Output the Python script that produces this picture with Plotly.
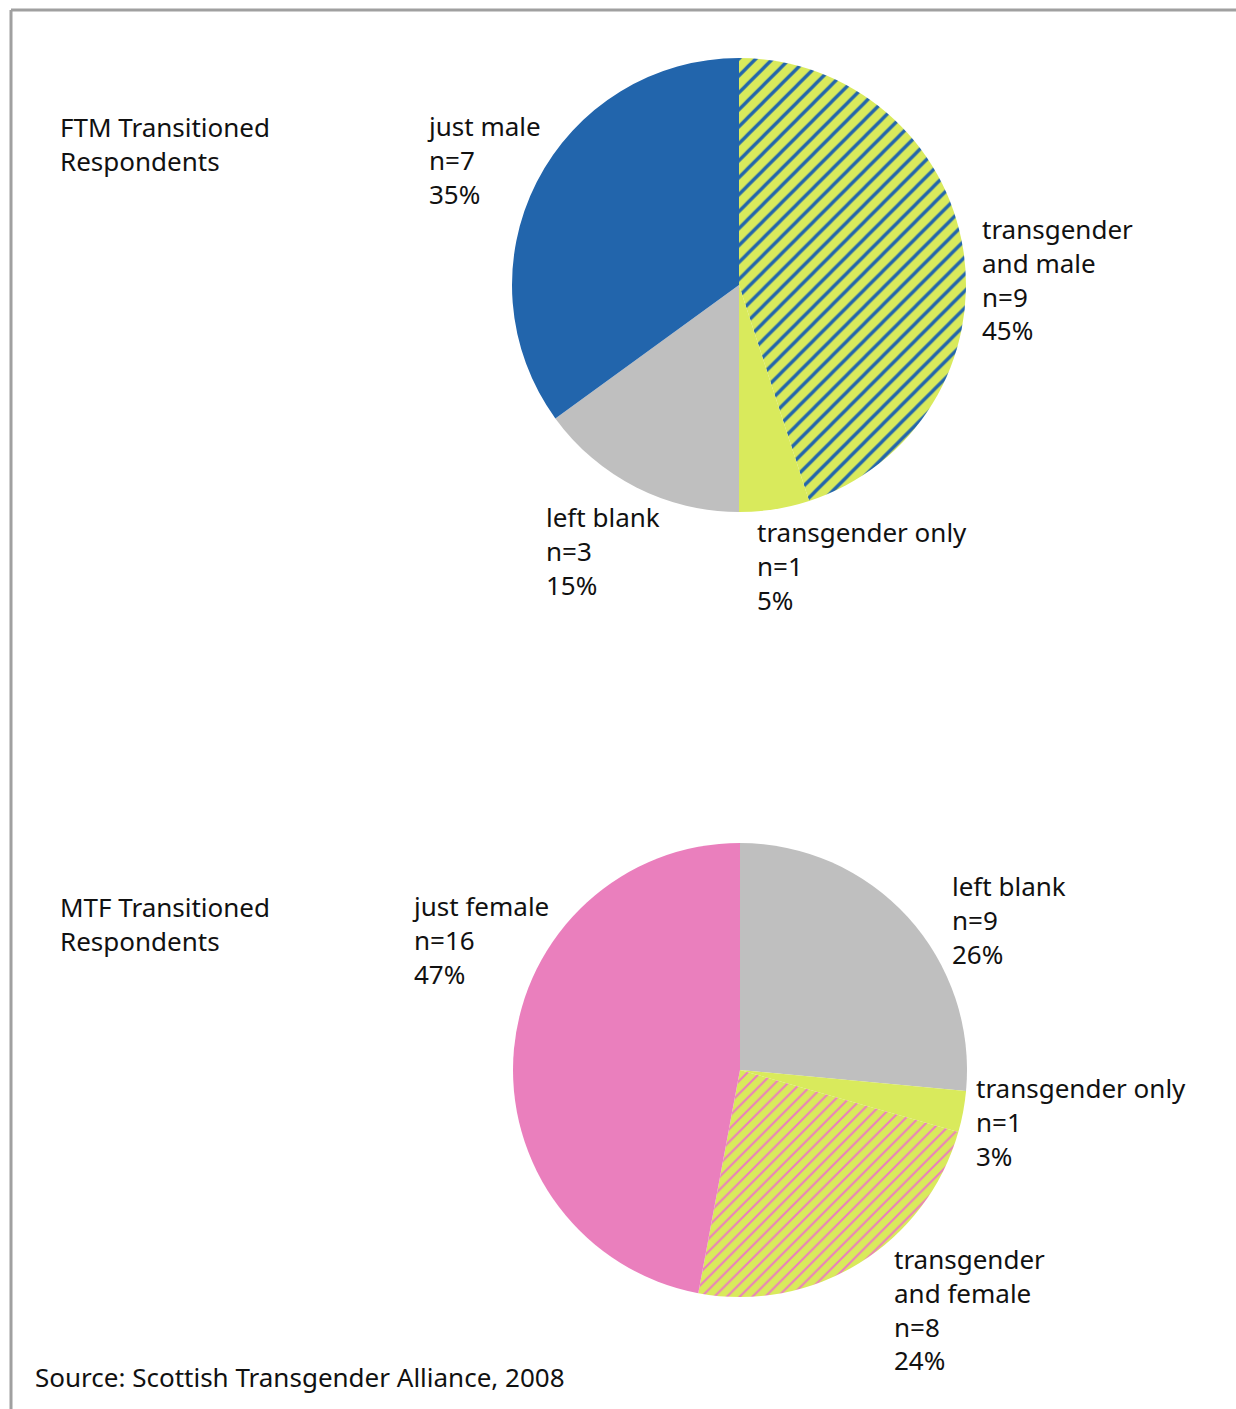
import plotly.graph_objects as go

W, H = 1236, 1409

# FTM data (clockwise from 12 o'clock)
ftm_labels = [["transgender", "and male"], ["transgender only"], ["left blank"], ["just male"]]
ftm_n = [9, 1, 3, 7]
ftm_pct = [45, 5, 15, 35]

# MTF data
mtf_labels = [["left blank"], ["transgender only"], ["transgender", "and female"], ["just female"]]
mtf_n = [9, 1, 8, 16]
mtf_pct = [26, 3, 24, 47]

titles = [["FTM Transitioned", "Respondents"], ["MTF Transitioned", "Respondents"]]
source = "Source: Scottish Transgender Alliance, 2008"

BLUE = "#2265AC"
LIME = "#D9EA5C"
GREY = "#BFBFBF"
PINK = "#EA7FBD"

FONT = "Noto Sans"
FS = 26
LH = 34            # rendered line height
REF_LINE = 32      # line spacing in the reference
BASE_OFF = 30      # annotation top -> first baseline

fig = go.Figure()

def px_domain(cx, cy, r):
    return dict(x=[(cx - r) / W, (cx + r) / W],
                y=[(H - cy - r) / H, (H - cy + r) / H])

fig.add_trace(go.Pie(
    labels=[" ".join(l) for l in ftm_labels], values=ftm_n,
    sort=False, direction="clockwise", rotation=0,
    textinfo="none", hoverinfo="label+value+percent",
    marker=dict(colors=[LIME, LIME, GREY, BLUE],
                line=dict(width=0),
                pattern=dict(shape=["/", "", "", ""], fgcolor=BLUE, bgcolor=LIME,
                             fgopacity=1, size=12, solidity=0.28, fillmode="overlay")),
    domain=px_domain(739, 285, 227), showlegend=False,
))

fig.add_trace(go.Pie(
    labels=[" ".join(l) for l in mtf_labels], values=mtf_n,
    sort=False, direction="clockwise", rotation=0,
    textinfo="none", hoverinfo="label+value+percent",
    marker=dict(colors=[GREY, LIME, LIME, PINK],
                line=dict(width=0),
                pattern=dict(shape=["", "", "/", ""], fgcolor=PINK, bgcolor=LIME,
                             fgopacity=1, size=9, solidity=0.23, fillmode="overlay")),
    domain=px_domain(740, 1070, 227), showlegend=False,
))

def add_block(x, baseline, lines):
    n = len(lines)
    shift = (n - 1) / 2 * (LH - REF_LINE)
    b0 = baseline - shift
    fig.add_annotation(x=(x - 3) / W, y=1 - (b0 - BASE_OFF) / H,
                       xref="paper", yref="paper",
                       xanchor="left", yanchor="top", align="left",
                       showarrow=False, text="<br>".join(lines),
                       font=dict(family=FONT, size=FS, color="#111111"))

def lab(labels, n, pct, i):
    return labels[i] + [f"n={n[i]}", f"{pct[i]}%"]

add_block(61, 138, titles[0])
add_block(428, 138, lab(ftm_labels, ftm_n, ftm_pct, 3))
add_block(983, 242, lab(ftm_labels, ftm_n, ftm_pct, 0))
add_block(547, 529, lab(ftm_labels, ftm_n, ftm_pct, 2))
add_block(758, 544, lab(ftm_labels, ftm_n, ftm_pct, 1))

add_block(61, 918, titles[1])
add_block(413, 918, lab(mtf_labels, mtf_n, mtf_pct, 3))
add_block(953, 898, lab(mtf_labels, mtf_n, mtf_pct, 0))
add_block(977, 1100, lab(mtf_labels, mtf_n, mtf_pct, 1))
add_block(895, 1272, lab(mtf_labels, mtf_n, mtf_pct, 2))

add_block(36, 1387, [source])

# frame
fig.add_shape(type="line", xref="paper", yref="paper",
              x0=11 / W, x1=1, y0=1 - 10 / H, y1=1 - 10 / H,
              line=dict(color="#A0A0A0", width=3))
fig.add_shape(type="line", xref="paper", yref="paper",
              x0=11 / W, x1=11 / W, y0=0, y1=1 - 10 / H,
              line=dict(color="#A0A0A0", width=3))

fig.update_layout(width=W, height=H, margin=dict(l=0, r=0, t=0, b=0),
                  paper_bgcolor="white", plot_bgcolor="white")

fig.write_html("out.html", config={"displayModeBar": False},
               post_script="document.body.style.margin='0px';")
